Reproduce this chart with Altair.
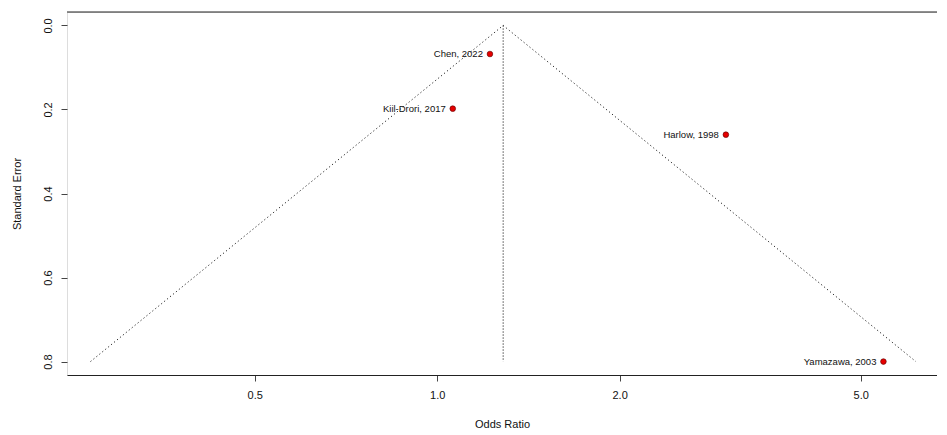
import altair as alt
import pandas as pd
import math

studies = ["Chen, 2022", "Kiil-Drori, 2017", "Harlow, 1998", "Yamazawa, 2003"]
odds_ratio = [1.222, 1.061, 2.995, 5.45]
std_error = [0.068, 0.198, 0.26, 0.80]
pooled_or = 1.285
se_max = 0.80

pts = pd.DataFrame({"study": studies, "or": odds_ratio, "se": std_error})

lo = pooled_or * math.exp(-1.96 * se_max)
hi = pooled_or * math.exp(1.96 * se_max)
funnel = pd.DataFrame({
    "or": [lo, pooled_or, hi],
    "se": [se_max, 0.0, se_max],
    "ord": [0, 1, 2],
})
center = pd.DataFrame({"or": [pooled_or, pooled_or], "se": [0.0, se_max], "ord": [0, 1]})
frame = pd.DataFrame({"k": [0]})

FONT = "Liberation Sans"
W, H = 870, 363

xscale = alt.Scale(type="log", domain=[0.245, 6.68], nice=False)
yscale = alt.Scale(domain=[-0.032, 0.832], reverse=True, nice=False, zero=False)

xaxis = alt.Axis(values=[0.5, 1, 2, 5], format=".1f", title="Odds Ratio", grid=False,
                 domainColor="#222", domainWidth=1.2, tickColor="#444", tickSize=6,
                 labelFont=FONT, labelFontSize=11, labelColor="#111", labelPadding=8,
                 titleFont=FONT, titleFontSize=11, titleFontWeight="normal", titleColor="#111",
                 titlePadding=18)
yaxis = alt.Axis(values=[0, 0.2, 0.4, 0.6, 0.8], format=".1f", title="Standard Error", grid=False,
                 domain=False, tickColor="#444", tickSize=6, labelAngle=-90,
                 labelAlign="center", labelBaseline="bottom",
                 labelFont=FONT, labelFontSize=11, labelColor="#111", labelPadding=8,
                 titleFont=FONT, titleFontSize=11, titleFontWeight="normal", titleColor="#111",
                 titlePadding=20)

base_x = alt.X("or:Q", scale=xscale, axis=xaxis)
base_y = alt.Y("se:Q", scale=yscale, axis=yaxis)

funnel_line = alt.Chart(funnel).mark_line(color="#222", strokeWidth=1, strokeDash=[1.2, 2.6]).encode(
    x=base_x, y=base_y, order="ord:Q")
center_line = alt.Chart(center).mark_line(color="#222", strokeWidth=1, strokeDash=[1.2, 1.8]).encode(
    x=alt.X("or:Q", scale=xscale), y=alt.Y("se:Q", scale=yscale), order="ord:Q")
points = alt.Chart(pts).mark_point(filled=True, shape="circle", size=32, color="#e60000",
                                    stroke="#550000", strokeWidth=0.6, opacity=1).encode(
    x=alt.X("or:Q", scale=xscale), y=alt.Y("se:Q", scale=yscale))
labels = alt.Chart(pts).mark_text(align="right", baseline="middle", dx=-7, font=FONT,
                                   fontSize=9.5, color="#111").encode(
    x=alt.X("or:Q", scale=xscale), y=alt.Y("se:Q", scale=yscale), text="study:N")

top_line = alt.Chart(frame).mark_rule(color="#222", strokeWidth=1.2).encode(y=alt.value(0))

chart = alt.layer(funnel_line, center_line, points, labels, top_line).properties(
    width=W, height=H,
    autosize=alt.AutoSizeParams(type="none"),
    padding={"left": 59, "top": 4, "right": 0, "bottom": 56},
).configure_view(stroke=None).configure(background="white")

chart.save("out.html", embed_options={"renderer": "svg", "actions": False})
